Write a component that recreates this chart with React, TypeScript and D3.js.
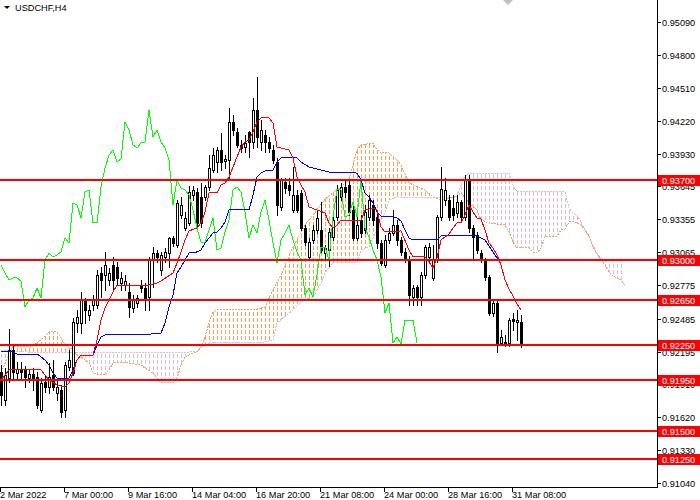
import React from 'react';
import * as d3 from 'd3';

// USDCHF H4 candles, 2 Mar - 31 Mar 2022
const openP = [
  0.92016, 0.91771, 0.91963, 0.92209, 0.92007, 0.92034, 0.92034, 0.91963, 0.91999, 0.91972,
  0.91683, 0.91928, 0.91885, 0.91990, 0.91832, 0.91858, 0.91683, 0.92060, 0.92007, 0.92446,
  0.92446, 0.92648, 0.92516, 0.92604, 0.92604, 0.92884, 0.92867, 0.92823, 0.92955, 0.92937,
  0.92797, 0.92779, 0.92718, 0.92577, 0.92621, 0.92779, 0.92753, 0.92674, 0.92998, 0.93060,
  0.92911, 0.93025, 0.93060, 0.93191, 0.93130, 0.93393, 0.93279, 0.93323, 0.93568, 0.93595,
  0.93551, 0.93551, 0.93639, 0.93788, 0.93858, 0.93963, 0.93867, 0.93875, 0.94209, 0.94121,
  0.94007, 0.93989, 0.94121, 0.94033, 0.94314, 0.94033, 0.94095, 0.94033, 0.93963, 0.93858,
  0.93463, 0.93682, 0.93656, 0.93437, 0.93568, 0.93586, 0.93279, 0.93025, 0.93174, 0.93262,
  0.93262, 0.93060, 0.93086, 0.93200, 0.93376, 0.93551, 0.93639, 0.93656, 0.93437, 0.93191,
  0.93349, 0.93262, 0.93376, 0.93481, 0.93376, 0.93147, 0.92955, 0.93174, 0.93235, 0.93305,
  0.93174, 0.93069, 0.92998, 0.92674, 0.92762, 0.92674, 0.92867, 0.93025, 0.92841, 0.92998,
  0.93376, 0.93525, 0.93525, 0.93454, 0.93411, 0.93507, 0.93376, 0.93700, 0.93279, 0.93218,
  0.93060, 0.92998, 0.92849, 0.92534, 0.92621, 0.92270, 0.92279, 0.92270, 0.92481, 0.92455,
  0.92455,
];
const highP = [
  0.92078, 0.92051, 0.92393, 0.92253, 0.92104, 0.92104, 0.92069, 0.92034, 0.92051, 0.92016,
  0.91963, 0.91990, 0.92095, 0.92121, 0.91946, 0.91902, 0.92104, 0.92209, 0.92490, 0.92560,
  0.92718, 0.92665, 0.92604, 0.92691, 0.92911, 0.92937, 0.93069, 0.92928, 0.93025, 0.92981,
  0.92893, 0.92867, 0.92797, 0.92691, 0.92691, 0.92823, 0.92797, 0.93025, 0.93112, 0.93086,
  0.93069, 0.93104, 0.93200, 0.93209, 0.93525, 0.93551, 0.93419, 0.93647, 0.93647, 0.93630,
  0.93674, 0.93656, 0.93919, 0.93981, 0.93989, 0.94112, 0.93919, 0.94331, 0.94270, 0.94156,
  0.94051, 0.94095, 0.94130, 0.94419, 0.94603, 0.94226, 0.94139, 0.94077, 0.94007, 0.93893,
  0.93718, 0.93718, 0.93718, 0.93814, 0.93612, 0.93612, 0.93305, 0.93191, 0.93305, 0.93437,
  0.93507, 0.93130, 0.93279, 0.93393, 0.93656, 0.93674, 0.93700, 0.93700, 0.93481, 0.93393,
  0.93393, 0.93481, 0.93568, 0.93525, 0.93437, 0.93174, 0.93218, 0.93279, 0.93437, 0.93349,
  0.93200, 0.93104, 0.93034, 0.92779, 0.92779, 0.92893, 0.93130, 0.93147, 0.93130, 0.93393,
  0.93814, 0.93718, 0.93568, 0.93568, 0.93568, 0.93525, 0.93744, 0.93744, 0.93305, 0.93244,
  0.93086, 0.93016, 0.92867, 0.92648, 0.92648, 0.92385, 0.92341, 0.92490, 0.92534, 0.92560,
  0.92516,
];
const lowP = [
  0.91727, 0.91727, 0.91928, 0.91963, 0.91946, 0.91946, 0.91885, 0.91928, 0.91858, 0.91701,
  0.91665, 0.91841, 0.91832, 0.91858, 0.91771, 0.91622, 0.91622, 0.92034, 0.91990, 0.92367,
  0.92358, 0.92446, 0.92472, 0.92560, 0.92577, 0.92674, 0.92735, 0.92779, 0.92735, 0.92779,
  0.92735, 0.92735, 0.92499, 0.92542, 0.92586, 0.92718, 0.92560, 0.92560, 0.92762, 0.92981,
  0.92867, 0.92981, 0.92937, 0.93121, 0.93112, 0.93367, 0.93262, 0.93305, 0.93525, 0.93297,
  0.93288, 0.93525, 0.93612, 0.93770, 0.93770, 0.93788, 0.93805, 0.93700, 0.94095, 0.93989,
  0.93946, 0.93946, 0.93902, 0.93981, 0.93989, 0.93963, 0.93946, 0.93946, 0.93849, 0.93393,
  0.93437, 0.93586, 0.93568, 0.93419, 0.93419, 0.93262, 0.93130, 0.92998, 0.93147, 0.93235,
  0.93069, 0.93016, 0.92946, 0.93174, 0.93349, 0.93525, 0.93551, 0.93393, 0.93174, 0.93174,
  0.93200, 0.93235, 0.93349, 0.93305, 0.93104, 0.92955, 0.92937, 0.93147, 0.93218, 0.93130,
  0.93042, 0.92981, 0.92604, 0.92604, 0.92604, 0.92604, 0.92841, 0.92981, 0.92823, 0.92981,
  0.93349, 0.93481, 0.93349, 0.93349, 0.93376, 0.93349, 0.93349, 0.93244, 0.92998, 0.93060,
  0.92981, 0.92823, 0.92516, 0.92507, 0.92192, 0.92253, 0.92244, 0.92244, 0.92385, 0.92297,
  0.92235,
];
const closeP = [
  0.91814, 0.91990, 0.92209, 0.92016, 0.92042, 0.92016, 0.91972, 0.91999, 0.91946, 0.91727,
  0.91920, 0.91885, 0.91972, 0.91885, 0.91885, 0.91665, 0.92078, 0.92121, 0.92455, 0.92499,
  0.92648, 0.92560, 0.92560, 0.92648, 0.92867, 0.92823, 0.92955, 0.92884, 0.92823, 0.92841,
  0.92841, 0.92814, 0.92586, 0.92648, 0.92665, 0.92753, 0.92665, 0.92998, 0.93060, 0.93025,
  0.93042, 0.93069, 0.93191, 0.93147, 0.93498, 0.93481, 0.93367, 0.93595, 0.93612, 0.93323,
  0.93323, 0.93639, 0.93805, 0.93919, 0.93963, 0.93858, 0.93884, 0.94209, 0.94139, 0.94007,
  0.93981, 0.94024, 0.94033, 0.94314, 0.94077, 0.94139, 0.94033, 0.93981, 0.93875, 0.93481,
  0.93700, 0.93630, 0.93612, 0.93568, 0.93437, 0.93279, 0.93156, 0.93156, 0.93262, 0.93367,
  0.93086, 0.93104, 0.93244, 0.93349, 0.93612, 0.93639, 0.93595, 0.93419, 0.93191, 0.93305,
  0.93235, 0.93419, 0.93525, 0.93349, 0.93147, 0.92972, 0.93174, 0.93235, 0.93305, 0.93174,
  0.93069, 0.92998, 0.92691, 0.92753, 0.92674, 0.92867, 0.93112, 0.93112, 0.92998, 0.93376,
  0.93621, 0.93612, 0.93376, 0.93393, 0.93507, 0.93376, 0.93700, 0.93279, 0.93200, 0.93086,
  0.92998, 0.92849, 0.92534, 0.92621, 0.92270, 0.92323, 0.92262, 0.92472, 0.92463, 0.92472,
  0.92270,
];

// Ichimoku lines, turning points as [bar, price]
const tenkan: [number, number][] = [
  [0, 0.91946], [2, 0.92034], [10, 0.92034], [11, 0.91990], [12, 0.91946], [14, 0.91902],
  [16, 0.91885], [17, 0.91920], [18, 0.92007], [19, 0.92121], [20, 0.92165], [23, 0.92165],
  [24, 0.92297], [25, 0.92472], [26, 0.92577], [27, 0.92648], [28, 0.92718], [29, 0.92779],
  [37, 0.92779], [39, 0.92797], [40, 0.92814], [43, 0.92884], [44, 0.92972], [45, 0.93069],
  [46, 0.93174], [47, 0.93253], [49, 0.93279], [50, 0.93323], [51, 0.93419], [52, 0.93586],
  [54, 0.93586], [55, 0.93656], [56, 0.93674], [57, 0.93726], [58, 0.93814], [59, 0.93902],
  [60, 0.93989], [61, 0.94033], [62, 0.94051], [63, 0.94121], [64, 0.94209], [65, 0.94244],
  [67, 0.94244], [68, 0.94200], [69, 0.93989], [72, 0.93963], [73, 0.93893], [74, 0.93726],
  [75, 0.93656], [76, 0.93595], [77, 0.93463], [79, 0.93437], [81, 0.93411], [82, 0.93323],
  [83, 0.93279], [84, 0.93305], [85, 0.93349], [90, 0.93349], [91, 0.93437], [93, 0.93454],
  [94, 0.93437], [95, 0.93288], [96, 0.93244], [100, 0.93253], [102, 0.93086], [103, 0.93025],
  [106, 0.93025], [107, 0.92981], [108, 0.92928], [109, 0.93016], [110, 0.93174], [111, 0.93200],
  [112, 0.93226], [113, 0.93279], [114, 0.93323], [115, 0.93323], [116, 0.93393], [117, 0.93481],
  [118, 0.93419], [119, 0.93367], [120, 0.93358], [121, 0.93262], [122, 0.93147], [123, 0.93104],
  [124, 0.93042], [125, 0.92955], [126, 0.92823], [127, 0.92744], [128, 0.92683], [129, 0.92613],
  [130, 0.92560],
];
const kijun: [number, number][] = [
  [0, 0.92192], [3, 0.92192], [4, 0.92174], [9, 0.92174], [10, 0.92148], [11, 0.92121],
  [12, 0.92078], [13, 0.92007], [14, 0.91963], [17, 0.91963], [18, 0.92034], [19, 0.92121],
  [20, 0.92165], [23, 0.92165], [24, 0.92253], [25, 0.92323], [26, 0.92341], [37, 0.92341],
  [38, 0.92358], [40, 0.92358], [41, 0.92446], [42, 0.92586], [43, 0.92691], [44, 0.92884],
  [45, 0.92937], [46, 0.92998], [47, 0.93060], [49, 0.93069], [50, 0.93086], [51, 0.93147],
  [52, 0.93191], [53, 0.93235], [54, 0.93244], [55, 0.93279], [56, 0.93332], [57, 0.93437],
  [62, 0.93437], [63, 0.93568], [64, 0.93726], [65, 0.93761], [66, 0.93779], [68, 0.93788],
  [69, 0.93858], [70, 0.93893], [74, 0.93893], [75, 0.93858], [77, 0.93814], [80, 0.93788],
  [82, 0.93770], [89, 0.93761], [90, 0.93700], [91, 0.93586], [92, 0.93551], [93, 0.93498],
  [94, 0.93419], [95, 0.93384], [98, 0.93376], [99, 0.93367], [100, 0.93340], [101, 0.93262],
  [102, 0.93191], [103, 0.93174], [109, 0.93174], [110, 0.93209], [119, 0.93209], [121, 0.93174],
  [122, 0.93121], [123, 0.93069], [124, 0.93016], [125, 0.92998], [130, 0.92998],
];
const spanA: [number, number][] = [
  [0, 0.92016], [2, 0.92165], [3, 0.92244], [8, 0.92244], [10, 0.92297], [12, 0.92367],
  [14, 0.92367], [15, 0.92314], [16, 0.92253], [18, 0.92209], [19, 0.92165], [20, 0.92148],
  [22, 0.92095], [23, 0.92016], [24, 0.91990], [26, 0.91990], [27, 0.92034], [28, 0.92095],
  [30, 0.92104], [32, 0.92095], [35, 0.92078], [36, 0.92051], [38, 0.92007], [40, 0.91920],
  [43, 0.91920], [44, 0.91963], [45, 0.92078], [46, 0.92148], [48, 0.92183], [49, 0.92192],
  [50, 0.92235], [51, 0.92323], [52, 0.92446], [53, 0.92542], [54, 0.92560], [63, 0.92560],
  [66, 0.92586], [68, 0.92735], [70, 0.92867], [73, 0.93112], [76, 0.93305], [79, 0.93437],
  [81, 0.93533], [85, 0.93639], [87, 0.93700], [89, 0.93963], [90, 0.94007], [93, 0.94024],
  [94, 0.93963], [95, 0.93937], [97, 0.93937], [99, 0.93875], [100, 0.93832], [102, 0.93674],
  [105, 0.93630], [106, 0.93612], [108, 0.93551], [110, 0.93525], [112, 0.93542], [114, 0.93560],
  [115, 0.93586], [117, 0.93498], [119, 0.93437], [120, 0.93349], [122, 0.93323], [126, 0.93305],
  [127, 0.93244], [128, 0.93156], [129, 0.93104], [132, 0.93104], [133, 0.93069], [134, 0.93060],
  [135, 0.93104], [136, 0.93200], [139, 0.93209], [140, 0.93262], [141, 0.93270], [142, 0.93332],
  [143, 0.93340], [145, 0.93305], [146, 0.93262], [147, 0.93209], [148, 0.93112], [149, 0.93060],
  [150, 0.92998], [151, 0.92955], [152, 0.92893], [153, 0.92858], [155, 0.92823], [156, 0.92779],
];
const spanB: [number, number][] = [
  [0, 0.92209], [10, 0.92183], [49, 0.92192], [50, 0.92235], [52, 0.92270], [66, 0.92279],
  [68, 0.92297], [69, 0.92446], [73, 0.92560], [75, 0.92630], [78, 0.92674], [80, 0.92797],
  [81, 0.92884], [83, 0.92972], [89, 0.92981], [90, 0.93086], [92, 0.93112], [93, 0.93191],
  [94, 0.93262], [96, 0.93411], [97, 0.93525], [99, 0.93551], [113, 0.93542], [114, 0.93568],
  [115, 0.93656], [116, 0.93735], [117, 0.93761], [127, 0.93761], [128, 0.93656], [129, 0.93595],
  [141, 0.93595], [142, 0.93454], [143, 0.93411], [144, 0.93393], [145, 0.93332], [146, 0.93262],
  [147, 0.93200], [148, 0.93130], [149, 0.93042], [150, 0.92998], [156, 0.92998],
];

const levelPrices = [0.937, 0.93, 0.9265, 0.9225, 0.9195, 0.915, 0.9125];
const levelLabels = ['0.93700', '0.93000', '0.92650', '0.92250', '0.91950', '0.91500', '0.91250'];

const priceTicks = [
  '0.95090', '0.94800', '0.94510', '0.94220', '0.93930', '0.93645', '0.93355', '0.93065',
  '0.92775', '0.92485', '0.92195', '0.91910', '0.91620', '0.91330', '0.91040',
];

const timeBars = [0, 16, 32, 48, 64, 80, 96, 112, 128];
const timeLabels = [
  '2 Mar 2022', '7 Mar 00:00', '9 Mar 16:00', '14 Mar 04:00', '16 Mar 20:00',
  '21 Mar 08:00', '24 Mar 00:00', '28 Mar 16:00', '31 Mar 08:00',
];

const CHIKOU_SHIFT = 26;
const PLOT_R = 657;
const PLOT_B = 487;
const FONT = '"Liberation Sans", Arial, sans-serif';
const SANDY = '#F4A460';
const THISTLE = '#D8BFD8';

const App: React.FC = () => {
  const x = d3.scaleLinear().domain([0, 164]).range([1, PLOT_R]);
  const y = d3.scaleLinear().domain([0.910076, 0.952786]).range([PLOT_B, 0]);

  const line = d3.line<[number, number]>().x(d => x(d[0])).y(d => y(d[1]));
  const below = d3.area<[number, number]>().x(d => x(d[0]) - 0.5).y0(PLOT_B).y1(d => y(d[1]));
  const above = d3.area<[number, number]>().x(d => x(d[0]) - 0.5).y0(0).y1(d => y(d[1]));

  const chikou = closeP.slice(CHIKOU_SHIFT).map((c, j) => [j, c] as [number, number]);

  // one hatch stroke per bar of the shifted cloud
  const cloudBars = d3.range(spanA[0][0], spanA[spanA.length - 1][0] + 1);
  const hatch = (color: string) =>
    cloudBars.map(i => (
      <line key={i} x1={Math.round(x(i)) + 0.5} x2={Math.round(x(i)) + 0.5} y1={0} y2={PLOT_B}
        stroke={color} strokeWidth={1} strokeDasharray="4,2" />
    ));

  return (
    <svg width={700} height={500} style={{ position: 'absolute', left: 0, top: 0, background: '#fff' }}>
      <defs>
        <clipPath id="belowA"><path d={below(spanA) || ''} /></clipPath>
        <clipPath id="aboveA"><path d={above(spanA) || ''} /></clipPath>
        <clipPath id="belowB"><path d={below(spanB) || ''} /></clipPath>
        <clipPath id="aboveB"><path d={above(spanB) || ''} /></clipPath>
      </defs>

      <rect x={0} y={0} width={700} height={500} fill="#fff" />

      {/* kumo */}
      <g shapeRendering="crispEdges">
        <g clipPath="url(#belowA)">
          <g clipPath="url(#aboveB)">{hatch(SANDY)}</g>
        </g>
        <g clipPath="url(#belowB)">
          <g clipPath="url(#aboveA)">{hatch(THISTLE)}</g>
        </g>
      </g>
      <path d={line(spanB) || ''} fill="none" stroke={THISTLE} strokeWidth={1} strokeDasharray="2,1" shapeRendering="crispEdges" />
      <path d={line(spanA) || ''} fill="none" stroke={SANDY} strokeWidth={1} strokeDasharray="2,1" shapeRendering="crispEdges" />

      {/* candles */}
      <g shapeRendering="crispEdges">
        {openP.map((o, i) => {
          const c = closeP[i];
          const cx = Math.round(x(i));
          const top = Math.round(y(Math.max(o, c)));
          const bot = Math.round(y(Math.min(o, c)));
          const bull = c >= o;
          return (
            <g key={i}>
              <line x1={cx + 0.5} x2={cx + 0.5} y1={Math.round(y(highP[i]))} y2={Math.round(y(lowP[i])) + 1} stroke="#000" />
              {bull ? (
                <rect x={cx - 0.5} y={top + 0.5} width={2} height={Math.max(bot - top, 1)} fill="#fff" stroke="#000" />
              ) : (
                <rect x={cx - 1} y={top} width={3} height={Math.max(bot - top, 1) + 1} fill="#000" />
              )}
            </g>
          );
        })}
      </g>

      {/* tenkan, kijun, chikou */}
      <path d={line(chikou) || ''} fill="none" stroke="#00FF00" strokeWidth={1} shapeRendering="crispEdges" />
      <path d={line(kijun) || ''} fill="none" stroke="#0000FF" strokeWidth={1} shapeRendering="crispEdges" />
      <path d={line(tenkan) || ''} fill="none" stroke="#FF0000" strokeWidth={1} shapeRendering="crispEdges" />

      {/* axes */}
      <g shapeRendering="crispEdges">
        <line x1={PLOT_R + 0.5} x2={PLOT_R + 0.5} y1={0} y2={PLOT_B + 1} stroke="#000" />
        <line x1={0} x2={PLOT_R + 1} y1={PLOT_B + 0.5} y2={PLOT_B + 0.5} stroke="#000" />
        {priceTicks.map(t => {
          const yy = Math.round(y(+t));
          return <line key={t} x1={PLOT_R} x2={PLOT_R + 4} y1={yy + 0.5} y2={yy + 0.5} stroke="#000" />;
        })}
        {timeBars.map(b => {
          const xx = Math.round(x(b)) - 1;
          return <line key={b} x1={xx + 0.5} x2={xx + 0.5} y1={PLOT_B} y2={PLOT_B + 5} stroke="#000" />;
        })}
      </g>
      <g fontFamily={FONT} fontSize={9.2} fill="#000">
        {priceTicks.map(t => (
          <text key={t} x={PLOT_R + 5} y={Math.round(y(+t)) + 3.5}>{t}</text>
        ))}
        {timeBars.map((b, k) => (
          <text key={b} x={Math.round(x(b)) - 1} y={498}>{timeLabels[k]}</text>
        ))}
      </g>

      {/* horizontal levels */}
      <g shapeRendering="crispEdges">
        {levelPrices.map(p => (
          <line key={p} x1={0} x2={PLOT_R} y1={y(p)} y2={y(p)} stroke="#FF0000" strokeWidth={2} />
        ))}
        {levelPrices.map(p => (
          <rect key={'b' + p} x={PLOT_R + 1} y={Math.round(y(p)) - 5} width={700 - PLOT_R - 1} height={11} fill="#FF0000" />
        ))}
      </g>
      <g fontFamily={FONT} fontSize={9.2} fill="#fff">
        {levelPrices.map((p, k) => (
          <text key={p} x={PLOT_R + 5} y={Math.round(y(p)) + 4}>{levelLabels[k]}</text>
        ))}
      </g>

      {/* header */}
      <path d="M4,6 L10,6 L7,9 Z" fill="#000" />
      <text x={15} y={11} fontFamily={FONT} fontSize={9.2} fill="#000">USDCHF,H4</text>
      <path d="M503,0 L513,0 L508,5 Z" fill="#C0C0C0" />
    </svg>
  );
};

export default App;
